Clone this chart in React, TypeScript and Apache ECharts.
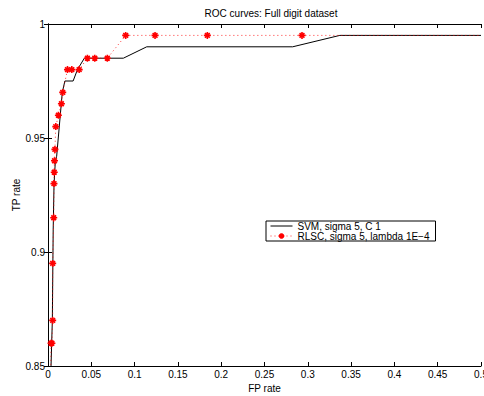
import React, { useEffect, useRef } from "react";
import * as echarts from "echarts";

const titleText = "ROC curves: Full digit dataset";
const svmName = "SVM, sigma 5, C 1";
const rlscName = "RLSC, sigma 5, lambda 1E\u22124";

const svmFp = [0.0035, 0.005, 0.006, 0.007, 0.0085, 0.01, 0.0165, 0.0195, 0.029, 0.034, 0.042, 0.087, 0.114, 0.2825, 0.337, 0.5];
const svmTp = [0.85, 0.87, 0.91, 0.93, 0.94, 0.942, 0.97, 0.975, 0.975, 0.98, 0.985, 0.985, 0.99, 0.99, 0.995, 0.995];

const rlscFp = [0.0035, 0.0045, 0.0054, 0.0054, 0.0066, 0.0069, 0.0072, 0.0075, 0.008, 0.009, 0.012, 0.0155, 0.017, 0.0225, 0.0275, 0.036, 0.0455, 0.054, 0.0685, 0.0897, 0.1236, 0.184, 0.2933];
const rlscTp = [0.86, 0.86, 0.87, 0.895, 0.915, 0.93, 0.935, 0.94, 0.945, 0.955, 0.96, 0.965, 0.97, 0.98, 0.98, 0.98, 0.985, 0.985, 0.985, 0.995, 0.995, 0.995, 0.995];
// tails of the dotted curve (no markers)
const rlscStartFp = [0.003];
const rlscStartTp = [0.84];
const rlscEndFp = [0.5];
const rlscEndTp = [0.995];

const star = "path://M5,0 L5,10 M0,5 L10,5 M1.6,1.6 L8.4,8.4 M1.6,8.4 L8.4,1.6";
const font = "Liberation Sans, Arial, sans-serif";

export default function App() {
  const ref = useRef<HTMLDivElement>(null);
  useEffect(() => {
    if (!ref.current) return;
    const chart = echarts.init(ref.current, undefined, { renderer: "svg" });
    const svmData = svmFp.map((x, i) => [x, svmTp[i]]);
    const rlscData: any[] = [];
    rlscStartFp.forEach((x, i) => rlscData.push({ value: [x, rlscStartTp[i]], symbol: "none" }));
    rlscFp.forEach((x, i) => rlscData.push([x, rlscTp[i]]));
    rlscEndFp.forEach((x, i) => rlscData.push({ value: [x, rlscEndTp[i]], symbol: "none" }));

    const axisLine = { show: true, lineStyle: { color: "#000", width: 1 } };
    const tick = { show: true, inside: true, length: 4, lineStyle: { color: "#000" } };
    chart.setOption({
      animation: false,
      textStyle: { fontFamily: font },
      title: {
        text: titleText,
        left: 266,
        textAlign: "center",
        top: 3,
        textStyle: { fontSize: 10, fontWeight: "normal", color: "#000", fontFamily: font },
      },
      grid: { left: 48, right: 3, top: 24, bottom: 30, outerBoundsMode: "none", containLabel: false },
      legend: {
        orient: "vertical",
        left: 266,
        top: 221,
        backgroundColor: "#fff",
        borderColor: "#000",
        borderWidth: 1,
        borderRadius: 0,
        padding: [0, 6, 0, 4],
        itemGap: 0,
        itemWidth: 22,
        itemHeight: 7,
        textStyle: { fontSize: 10, color: "#000", fontFamily: font },
        data: [
          { name: svmName, itemStyle: { opacity: 0 }, lineStyle: { width: 1 } },
          { name: rlscName, lineStyle: { width: 1 } },
        ],
      },
      xAxis: [
        {
          type: "value",
          min: 0,
          max: 0.5,
          interval: 0.05,
          name: "FP rate",
          nameLocation: "middle",
          nameGap: 17,
          nameMoveOverlap: false,
          nameTextStyle: { fontSize: 10, color: "#000", fontFamily: font },
          axisLine,
          axisTick: tick,
          axisLabel: { fontSize: 10, color: "#000", margin: 3, fontFamily: font },
          splitLine: { show: false },
        },
        {
          type: "value",
          position: "top",
          min: 0,
          max: 0.5,
          interval: 0.05,
          axisLine,
          axisTick: tick,
          axisLabel: { show: false },
          splitLine: { show: false },
        },
      ],
      yAxis: [
        {
          type: "value",
          min: 0.85,
          max: 1,
          interval: 0.05,
          name: "TP rate",
          nameLocation: "middle",
          nameGap: 27,
          nameMoveOverlap: false,
          nameTextStyle: { fontSize: 10, color: "#000", fontFamily: font },
          axisLine,
          axisTick: tick,
          axisLabel: { fontSize: 10, color: "#000", margin: 3, fontFamily: font },
          splitLine: { show: false },
        },
        {
          type: "value",
          position: "right",
          min: 0.85,
          max: 1,
          interval: 0.05,
          axisLine,
          axisTick: tick,
          axisLabel: { show: false },
          splitLine: { show: false },
        },
      ],
      series: [
        {
          name: svmName,
          type: "line",
          data: svmData,
          showSymbol: false,
          symbol: "none",
          clip: true,
          lineStyle: { color: "#000", width: 1 },
          itemStyle: { color: "#000" },
        },
        {
          name: rlscName,
          type: "line",
          data: rlscData,
          symbol: star,
          symbolSize: 7,
          clip: true,
          lineStyle: { color: "#ff0000", width: 1, type: [1, 3], opacity: 0.8 },
          itemStyle: { color: "#ff0000", borderColor: "#ff0000", borderWidth: 1.6 },
        },
      ],
    });
    return () => chart.dispose();
  }, []);
  return (
    <div
      ref={ref}
      style={{ position: "fixed", left: 0, top: 0, width: 484, height: 396, background: "#fff" }}
    />
  );
}
